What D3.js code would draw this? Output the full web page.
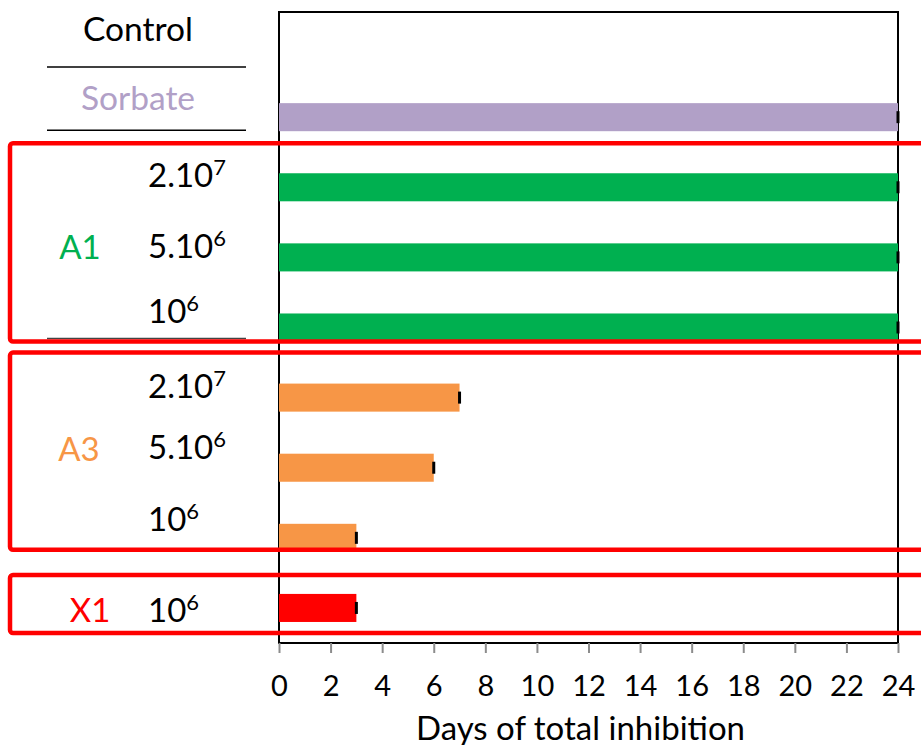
<!DOCTYPE html>
<html lang="en">
<head>
<meta charset="utf-8">
<script src="https://d3js.org/d3.v7.min.js"></script>
<style>
  body { margin: 0; background: #fff; }
  text { font-family: Lato, "Open Sans", sans-serif; }
</style>
</head>
<body>
<div id="chart"></div>
<script>
// data
var groups   = ["Control", "Sorbate", "A1", "A1", "A1", "A3", "A3", "A3", "X1"];
var doseBase = ["", "", "2.10", "5.10", "10", "2.10", "5.10", "10", "10"];
var doseExp  = ["", "", "7", "6", "6", "7", "6", "6", "6"];
var days     = [0, 24, 24, 24, 24, 7, 6, 3, 3];
var errs     = [0, 0, 0, 0, 0, 0, 0, 0, 0];
var xTicks   = [0, 2, 4, 6, 8, 10, 12, 14, 16, 18, 20, 22, 24];
var xTitle   = "Days of total inhibition";

var colors = { Control: "#000000", Sorbate: "#B1A0C7", A1: "#00B050", A3: "#F79646", X1: "#FF0000" };

var width = 921, height = 745;
var plotL = 279, plotR = 898, plotT = 12, plotB = 643;

var svg = d3.select("#chart").append("svg")
    .attr("width", width)
    .attr("height", height);

var xScale = d3.scaleLinear().domain([0, 24]).range([plotL, plotR]);
var yScale = d3.scaleBand().domain(d3.range(groups.length))
    .range([plotT, plotB]).paddingInner(0.6).paddingOuter(0.3);
var rowC = function(i) { return yScale(i) + yScale.bandwidth() / 2; };

// plot frame
svg.append("rect")
    .attr("x", plotL).attr("y", plotT)
    .attr("width", plotR - plotL).attr("height", plotB - plotT)
    .attr("fill", "none").attr("stroke", "#000").attr("stroke-width", 2);

// bars
svg.append("g").selectAll("rect")
    .data(days)
    .enter()
    .append("rect")
    .attr("x", xScale(0))
    .attr("y", function(d, i) { return yScale(i); })
    .attr("width", function(d) { return xScale(d) - xScale(0); })
    .attr("height", yScale.bandwidth())
    .attr("fill", function(d, i) { return colors[groups[i]]; });

// error marks (tiny, only the cap shows)
svg.append("g").selectAll("rect")
    .data(days.map(function(d, i) { return { v: d, e: errs[i], i: i }; })
                .filter(function(d) { return d.v > 0; }))
    .enter()
    .append("rect")
    .attr("x", function(d) { return xScale(d.v - d.e) - 1.5; })
    .attr("y", function(d) { return rowC(d.i) - 6; })
    .attr("width", function(d) { return 3 + xScale(d.v + d.e) - xScale(d.v - d.e); })
    .attr("height", 12)
    .attr("fill", "#000");

// x axis ticks + labels
var xAxis = d3.axisBottom(xScale).tickValues(xTicks).tickSize(10).tickPadding(22);
var ax = svg.append("g")
    .attr("transform", "translate(0," + plotB + ")")
    .call(xAxis);
ax.select(".domain").remove();
ax.selectAll(".tick line").attr("stroke", "#8c8c8c").attr("stroke-width", 2);
ax.selectAll(".tick text").attr("font-size", 29).attr("fill", "#000")
    .attr("font-family", "Lato, sans-serif");

svg.append("text")
    .attr("x", (plotL + plotR) / 2 - 8)
    .attr("y", 740)
    .attr("text-anchor", "middle")
    .attr("font-size", 33)
    .text(xTitle);

// label nudges (text boxes in the original sit above bars)
var labelDy = [-18, -19, -12, -11, -16, -11, -21, -19, 2];

// Control / Sorbate names
[0, 1].forEach(function(i) {
    svg.append("text")
        .attr("x", 138)
        .attr("y", rowC(i) + labelDy[i])
        .attr("dy", "0.36em")
        .attr("text-anchor", "middle")
        .attr("font-size", 33.5)
        .attr("fill", colors[groups[i]])
        .text(groups[i]);
});

// dose labels with superscript
doseBase.forEach(function(b, i) {
    if (!b) return;
    var t = svg.append("text")
        .attr("x", 148)
        .attr("y", rowC(i) + labelDy[i])
        .attr("dy", "0.36em")
        .attr("font-size", 33)
        .attr("fill", "#000");
    t.append("tspan").text(b);
    t.append("tspan").attr("font-size", 22).attr("dy", -12).text(doseExp[i]);
});

// group names
var groupLabels = [
    { name: "A1", rows: [2, 4], x: 80, dy: -10 },
    { name: "A3", rows: [5, 7], x: 79, dy: -19 },
    { name: "X1", rows: [8, 8], x: 90, dy: 2 }
];
groupLabels.forEach(function(g) {
    svg.append("text")
        .attr("x", g.x)
        .attr("y", (rowC(g.rows[0]) + rowC(g.rows[1])) / 2 + g.dy)
        .attr("dy", "0.36em")
        .attr("text-anchor", "middle")
        .attr("font-size", 33)
        .attr("fill", colors[g.name])
        .text(g.name);
});

// separator lines
[[0, 20, "#000"], [1, 13, "#000"], [4, 11, "#444"]].forEach(function(s) {
    svg.append("line")
        .attr("x1", 47).attr("x2", 246)
        .attr("y1", rowC(s[0]) + s[1]).attr("y2", rowC(s[0]) + s[1])
        .attr("stroke", s[2]).attr("stroke-width", 1.5);
});

// red boxes around groups
var boxes = [
    { rows: [2, 4], t: -44, b: 14 },
    { rows: [5, 7], t: -45, b: 12 },
    { rows: [8, 8], t: -33, b: 25 }
];
boxes.forEach(function(bx) {
    var y0 = rowC(bx.rows[0]) + bx.t, y1 = rowC(bx.rows[1]) + bx.b;
    svg.append("rect")
        .attr("x", 10).attr("y", y0)
        .attr("width", 930).attr("height", y1 - y0)
        .attr("rx", 3)
        .attr("fill", "none")
        .attr("stroke", "#FF0000")
        .attr("stroke-width", 4.5);
});
</script>
</body>
</html>
